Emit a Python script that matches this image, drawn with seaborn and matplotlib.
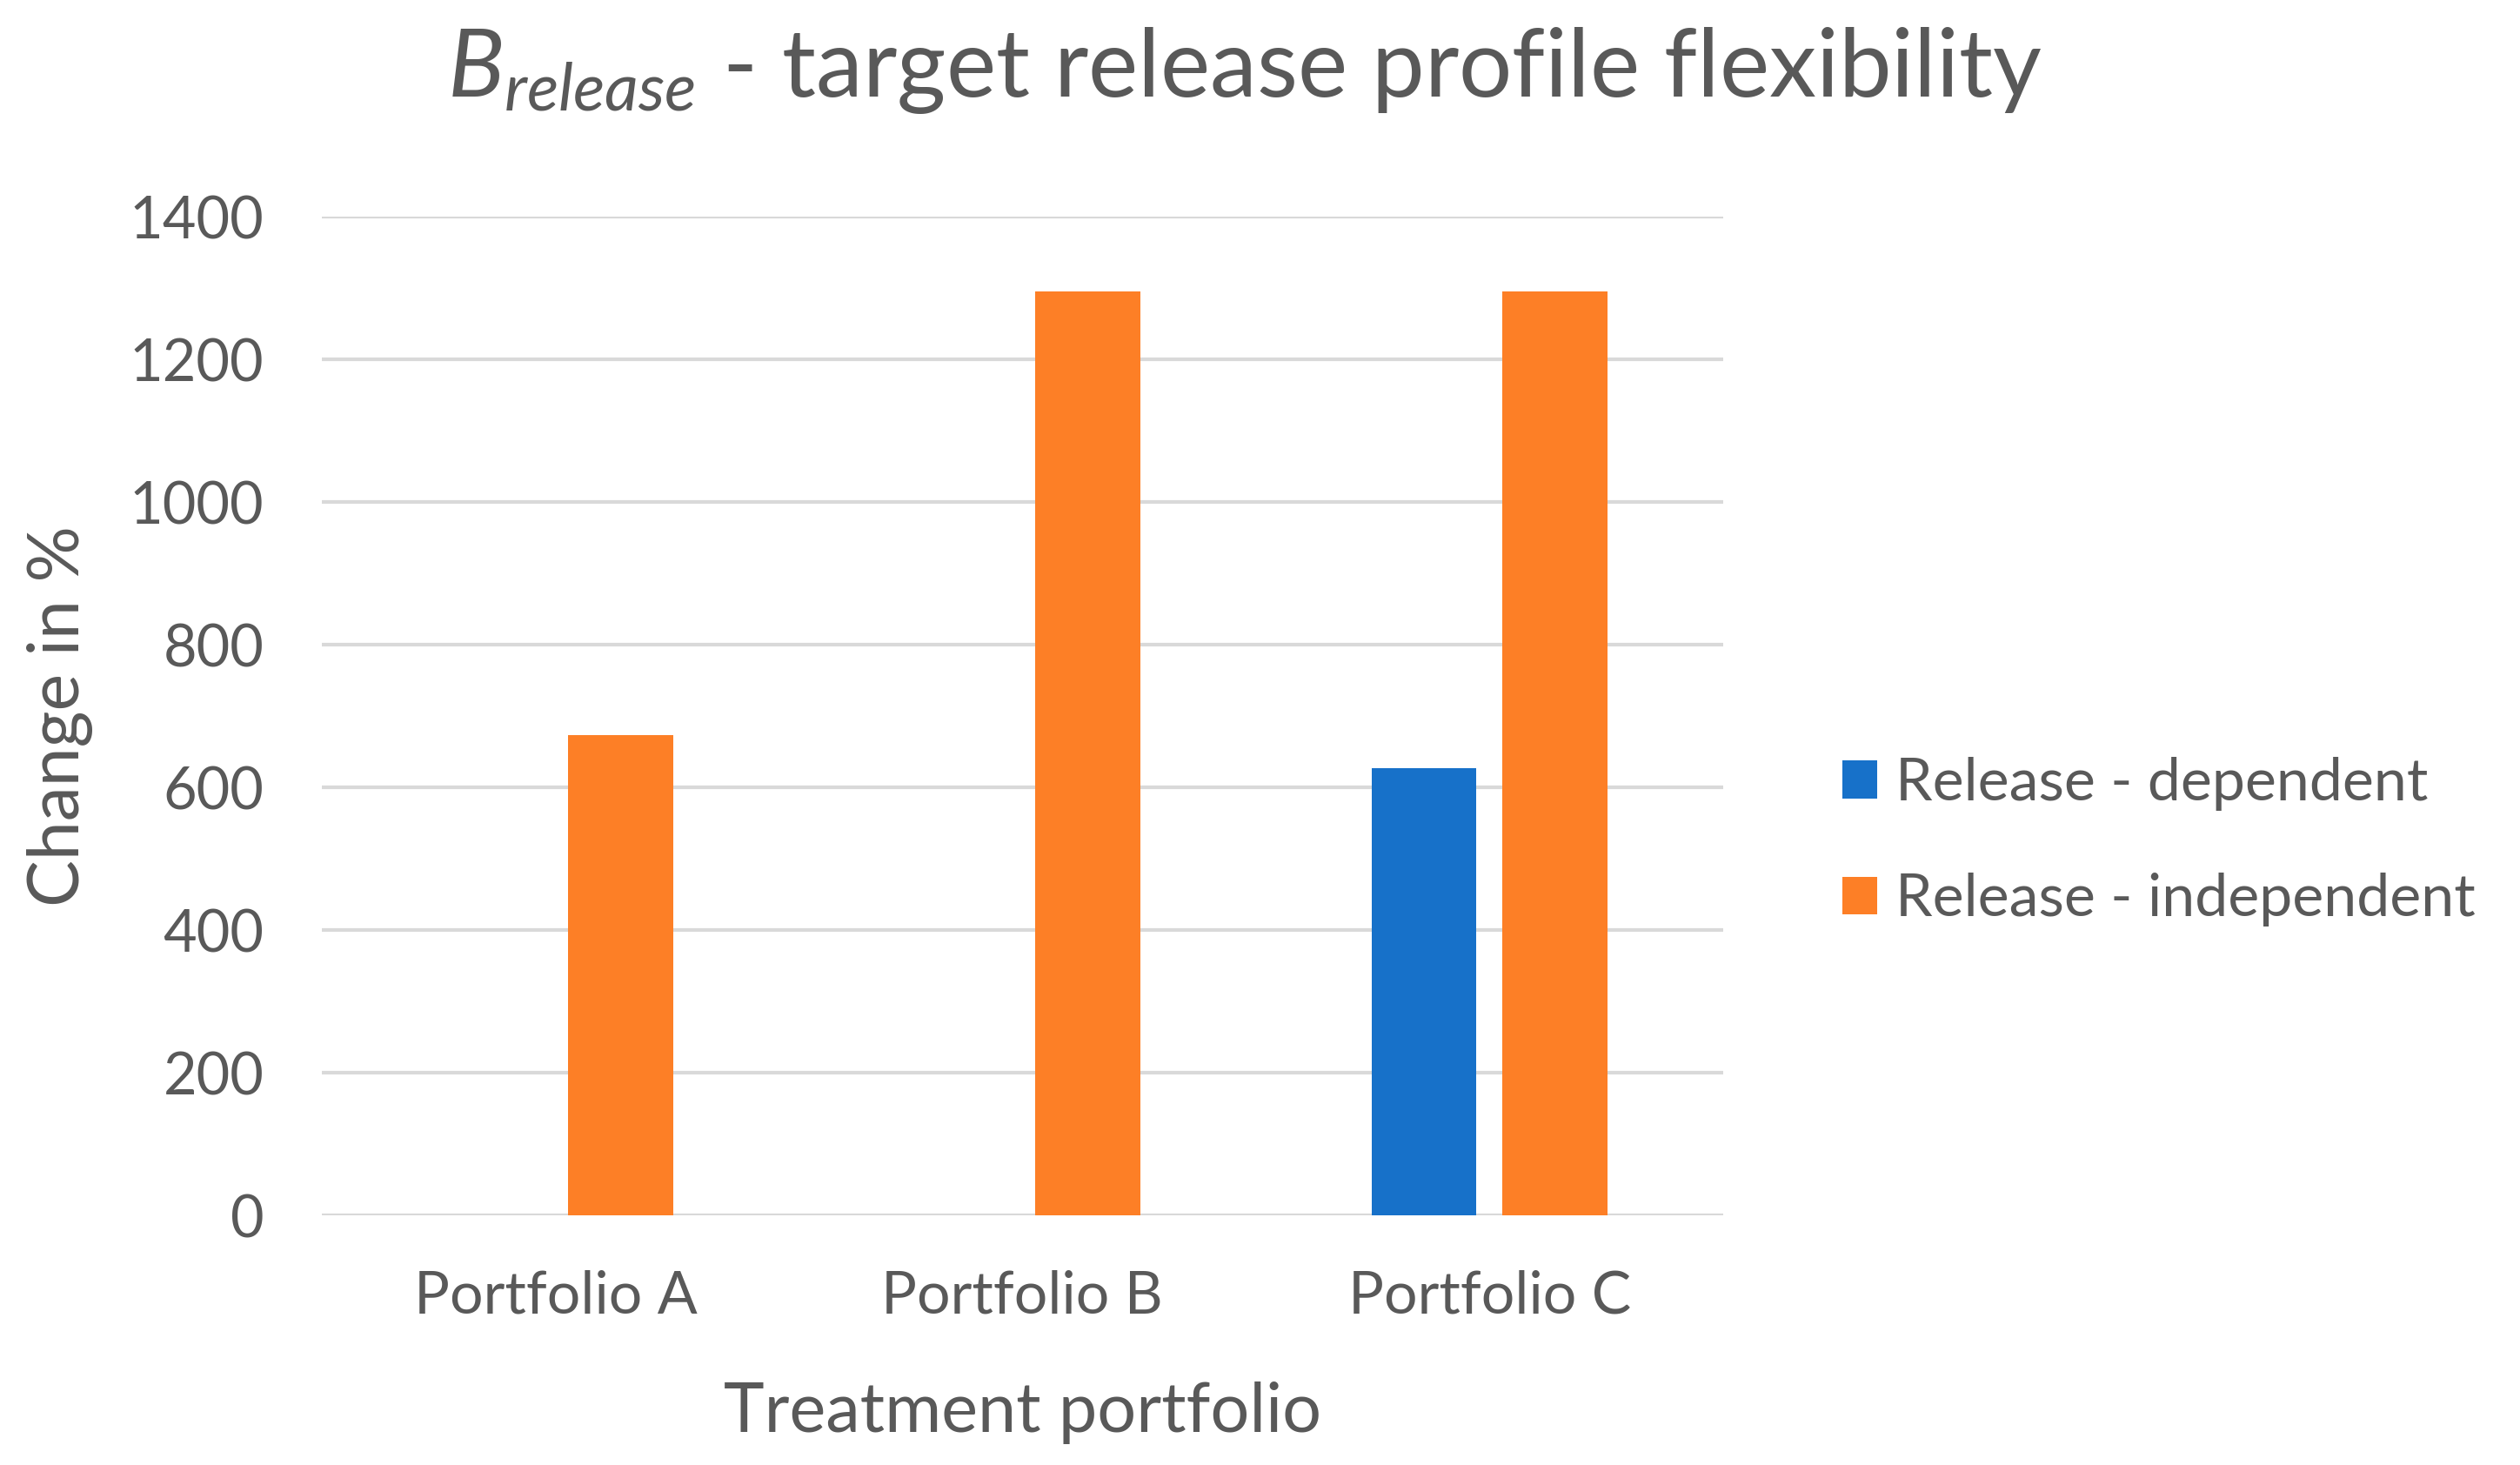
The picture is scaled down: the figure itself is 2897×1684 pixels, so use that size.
import numpy as np
import pandas as pd
import matplotlib
matplotlib.use("Agg")
import matplotlib.pyplot as plt
import seaborn as sns

# values
portfolios = ["Portfolio A", "Portfolio B", "Portfolio C"]
dependent = [0, 0, 627]
independent = [673, 1295, 1295]
series = ["Release - dependent", "Release - independent"]
colors = ["#1771C9", "#FD7F26"]
yticks = [0, 200, 400, 600, 800, 1000, 1200, 1400]

df = pd.DataFrame({
    "portfolio": portfolios * 2,
    "series": [series[0]] * 3 + [series[1]] * 3,
    "value": dependent + independent,
})

sns.set_theme(style="white")
plt.rcParams["font.family"] = ["Lato", "DejaVu Sans"]
plt.rcParams["mathtext.fontset"] = "custom"
plt.rcParams["mathtext.rm"] = "Lato"
plt.rcParams["mathtext.it"] = "Lato:italic"

grey = "#595959"
fig = plt.figure(figsize=(28.97, 16.84), dpi=100)
ax = fig.add_axes([0.1277, 0.1704, 0.556, 0.6816])

sns.barplot(data=df, x="portfolio", y="value", hue="series", hue_order=series,
            palette=colors, saturation=1, width=0.56, gap=0.2, linewidth=0, ax=ax)

ax.set_ylim(0, 1400)
ax.set_yticks(yticks)
ax.yaxis.grid(True, color="#D9D9D9", linewidth=3)
ax.set_axisbelow(True)
for s in ax.spines.values():
    s.set_visible(False)
ax.tick_params(axis="y", length=0, pad=48, labelsize=48, labelcolor=grey)
ax.tick_params(axis="x", length=0, pad=45, labelsize=49, labelcolor=grey)
ax.set_xlabel("Treatment portfolio", fontsize=57, color=grey, labelpad=48)
ax.set_ylabel("Change in %", fontsize=58, color=grey, labelpad=30)

fig.suptitle(r"$\mathit{B}_{\mathit{release}}$ - target release profile flexibility",
             fontsize=78, color=grey, x=0.494, y=0.952, va="center")

ax.legend(loc="center left", bbox_to_anchor=(1.047, 0.374), frameon=False,
          fontsize=49, labelcolor=grey, handlelength=0.6, handleheight=0.6,
          handletextpad=0.3, labelspacing=1.05)

fig.savefig("out.png", dpi=100)
